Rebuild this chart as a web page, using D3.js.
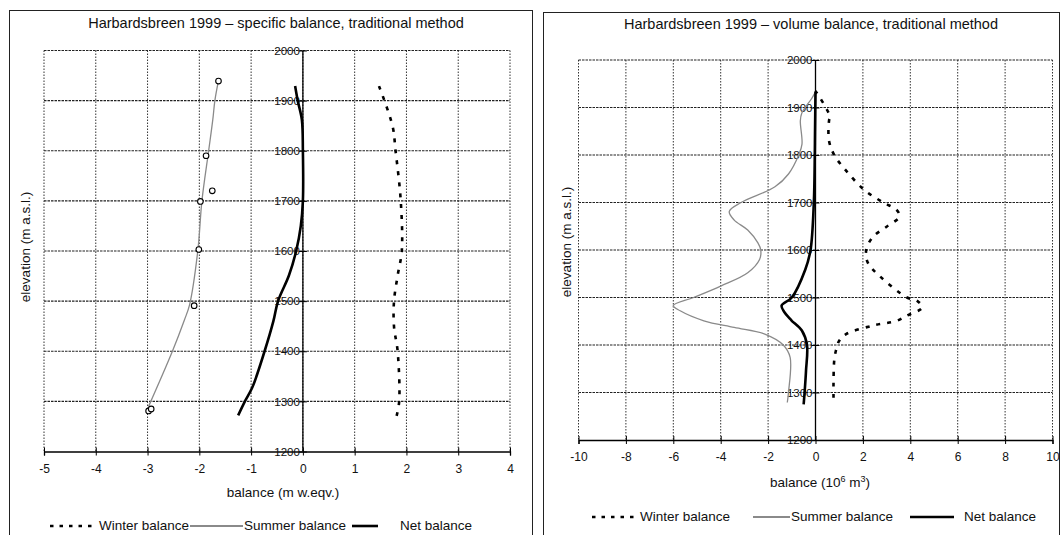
<!DOCTYPE html>
<html><head><meta charset="utf-8">
<script src="https://cdn.jsdelivr.net/npm/d3@7"></script>
<style>
body{margin:0;background:#fff;}
text{font-family:Arial,"Liberation Sans",sans-serif;fill:#111;}
</style></head>
<body><svg id="c" width="1062" height="535"></svg>
<script>
// ---------- DATA ----------
// Left chart: specific balance (m w.eqv.) vs elevation (m a.s.l.)
const specXTicks = [-5,-4,-3,-2,-1,0,1,2,3,4];
const elevTicks = [1200,1300,1400,1500,1600,1700,1800,1900,2000];
const specWinterElev = [1271,1300,1400,1449,1500,1551,1600,1700,1800,1850,1929];
const specWinterVal  = [1.81,1.86,1.83,1.76,1.76,1.83,1.91,1.89,1.79,1.73,1.47];
const specSummerElev = [1290,1400,1462,1492,1600,1700,1800,1862,1900,1935];
const specSummerVal  = [-2.98,-2.52,-2.29,-2.19,-2.03,-1.95,-1.82,-1.74,-1.70,-1.64];
const specSummerObsElev = [1281,1285,1491,1603,1699,1720,1790,1939];
const specSummerObsVal  = [-2.98,-2.93,-2.10,-2.01,-1.98,-1.75,-1.87,-1.63];
const specNetElev = [1272,1300,1327,1400,1460,1500,1551,1600,1650,1700,1800,1862,1900,1929];
const specNetVal  = [-1.25,-1.12,-0.98,-0.74,-0.57,-0.48,-0.27,-0.13,-0.04,0,0,-0.02,-0.10,-0.15];

// Right chart: volume balance (10^6 m^3) vs elevation
const volXTicks = [-10,-8,-6,-4,-2,0,2,4,6,8,10];
const volWinterElev = [1289,1321,1367,1388,1409,1423,1441,1451,1462,1479,1493,1500,1545,1573,1600,1628,1649,1670,1684,1700,1726,1767,1800,1830,1872,1881,1935];
const volWinterVal  = [0.76,0.76,0.79,0.86,1.0,1.29,2.43,3.43,3.86,4.5,4.29,3.86,2.71,2.21,2.14,2.43,3.0,3.54,3.43,2.86,2.07,1.29,0.79,0.57,0.57,0.61,0];
const volSummerElev = [1279,1300,1374,1400,1423,1437,1451,1472,1483,1500,1524,1552,1580,1600,1615,1642,1663,1681,1700,1733,1760,1800,1823,1872,1888,1919,1933];
const volSummerVal  = [-1.19,-1.14,-1.07,-1.36,-2.14,-3.43,-4.71,-5.71,-6.0,-5.14,-4.0,-2.86,-2.36,-2.31,-2.43,-2.86,-3.43,-3.64,-3.14,-1.71,-1.14,-0.71,-0.57,-0.64,-0.58,-0.16,0];
const volNetElev = [1275,1300,1346,1400,1430,1451,1455,1469,1483,1500,1559,1600,1700,1800,1850,1933];
const volNetVal  = [-0.5,-0.46,-0.4,-0.36,-0.57,-1.0,-1.07,-1.31,-1.43,-1.0,-0.43,-0.21,-0.07,-0.03,-0.02,0];

const legendLabels = ["Winter balance","Summer balance","Net balance"];

// ---------- DRAW ----------
const svg = d3.select("#c");

function chart(cfg){
  const g = svg.append("g");
  g.append("rect").attr("x",cfg.frame[0]).attr("y",cfg.frame[1]).attr("width",cfg.frame[2]).attr("height",cfg.frame[3])
    .attr("fill","none").attr("stroke","#222").attr("stroke-width",1);
  const x = d3.scaleLinear().domain(cfg.xDomain).range(cfg.xRange);
  const y = d3.scaleLinear().domain([1200,2000]).range(cfg.yRange);
  const [x0,x1] = cfg.xRange, [y0,y1] = cfg.yRange;
  g.selectAll(".vg").data(cfg.xTicks).enter().append("line")
    .attr("x1",d=>x(d)).attr("x2",d=>x(d)).attr("y1",y1).attr("y2",y0)
    .attr("stroke","#333").attr("stroke-width",1).attr("stroke-dasharray","1.5,1.5");
  g.selectAll(".hg").data(elevTicks.filter(d=>d>1200)).enter().append("line")
    .attr("x1",x0).attr("x2",x1).attr("y1",d=>y(d)).attr("y2",d=>y(d))
    .attr("stroke","#222").attr("stroke-width",1.1).attr("stroke-dasharray","2.5,1");
  const xa = d3.axisBottom(x).tickValues(cfg.xTicks).tickSize(4).tickFormat(d=>String(d));
  const xg = g.append("g").attr("transform",`translate(0,${y0})`).call(xa);
  xg.select(".domain").attr("stroke","#000").attr("stroke-width",1.3);
  xg.selectAll(".tick line").attr("y1",-4).attr("stroke","#000");
  xg.selectAll(".tick text").attr("font-size",12).attr("font-family","Arial").attr("fill","#111").attr("dy",cfg.xLabDy);
  const ya = d3.axisLeft(y).tickValues(elevTicks).tickSize(4).tickFormat(d=>String(d));
  const yg = g.append("g").attr("transform",`translate(${x(0)},0)`).call(ya);
  yg.select(".domain").attr("stroke","#000").attr("stroke-width",1.3).attr("d",`M0,${y0}V${y1}`);
  yg.selectAll(".tick line").attr("x2",4).attr("x1",-4).attr("stroke","#000");
  yg.selectAll(".tick text").attr("font-size",11.5).attr("font-family","Arial").attr("fill","#111").attr("x",-3);
  g.append("text").attr("x",cfg.titleX).attr("y",cfg.titleY).attr("text-anchor","middle").attr("font-size",14.5).text(cfg.title);
  const xt = g.append("text").attr("x",cfg.xtX).attr("y",cfg.xtY).attr("text-anchor","middle").attr("font-size",13.5);
  cfg.xTitle(xt);
  g.append("text").attr("transform",`translate(${cfg.ytX},${cfg.ytY}) rotate(-90)`).attr("text-anchor","middle").attr("font-size",13.5).text("elevation (m a.s.l.)");

  const line = d3.line().x(d=>x(d[0])).y(d=>y(d[1])).curve(d3.curveCatmullRom.alpha(0.5));
  const zip = (v,e)=>v.map((d,i)=>[d,e[i]]);
  g.append("path").attr("d",line(zip(cfg.summerVal,cfg.summerElev))).attr("fill","none")
    .attr("stroke","#8a8a8a").attr("stroke-width",1.3);
  g.append("path").attr("d",line(zip(cfg.netVal,cfg.netElev))).attr("fill","none")
    .attr("stroke","#000").attr("stroke-width",2.6);
  g.append("path").attr("d",line(zip(cfg.winterVal,cfg.winterElev))).attr("fill","none")
    .attr("stroke","#000").attr("stroke-width",2.6).attr("stroke-dasharray","4,7");
  if(cfg.obsVal){
    g.selectAll(".obs").data(zip(cfg.obsVal,cfg.obsElev)).enter().append("circle")
      .attr("cx",d=>x(d[0])).attr("cy",d=>y(d[1])).attr("r",2.8)
      .attr("fill","#fff").attr("stroke","#000").attr("stroke-width",1.1);
  }
  const L = cfg.legend, ly = L.y;
  g.append("line").attr("x1",L.w[0]).attr("x2",L.w[1]).attr("y1",ly-4).attr("y2",ly-4)
    .attr("stroke","#000").attr("stroke-width",2.6).attr("stroke-dasharray","3.5,6");
  g.append("text").attr("x",L.w[1]+2).attr("y",ly).attr("font-size",13.5).text(legendLabels[0]);
  g.append("line").attr("x1",L.s[0]).attr("x2",L.s[1]).attr("y1",ly-4).attr("y2",ly-4)
    .attr("stroke","#8a8a8a").attr("stroke-width",1.8);
  g.append("text").attr("x",L.s[1]+1).attr("y",ly).attr("font-size",13.5).text(legendLabels[1]);
  g.append("line").attr("x1",L.n[0]).attr("x2",L.n[1]).attr("y1",ly-4).attr("y2",ly-4)
    .attr("stroke","#000").attr("stroke-width",2.6);
  g.append("text").attr("x",L.n[2]).attr("y",ly).attr("font-size",13.5).text(legendLabels[2]);
}

chart({
  frame:[9.5,10.5,523,540],
  xDomain:[-5,4], xRange:[44,510], yRange:[451.5,50.5], xTicks:specXTicks, xLabDy:"1.2em",
  title:"Harbardsbreen  1999 \u2013  specific balance, traditional method", titleX:276, titleY:28,
  xtX:283, xtY:497, xTitle:t=>t.text("balance (m w.eqv.)"),
  ytX:30, ytY:247,
  winterVal:specWinterVal, winterElev:specWinterElev,
  summerVal:specSummerVal, summerElev:specSummerElev,
  netVal:specNetVal, netElev:specNetElev,
  obsVal:specSummerObsVal, obsElev:specSummerObsElev,
  legend:{y:530, w:[50,97], s:[190,243], n:[352,378,400]}
});

chart({
  frame:[543.5,12.5,516,540],
  xDomain:[-10,10], xRange:[578.5,1052.5], yRange:[440,60], xTicks:volXTicks, xLabDy:"1.2em",
  title:"Harbardsbreen  1999 \u2013  volume balance, traditional method", titleX:811, titleY:29,
  xtX:820, xtY:487, xTitle:t=>{t.append("tspan").text("balance (10");t.append("tspan").attr("font-size",9).attr("dy",-5).text("6");t.append("tspan").attr("dy",5).text(" m");t.append("tspan").attr("font-size",9).attr("dy",-5).text("3");t.append("tspan").attr("dy",5).text(")");},
  ytX:571, ytY:242,
  winterVal:volWinterVal, winterElev:volWinterElev,
  summerVal:volSummerVal, summerElev:volSummerElev,
  netVal:volNetVal, netElev:volNetElev,
  legend:{y:521, w:[592,638], s:[753,790], n:[910,954,964]}
});
</script></body></html>
